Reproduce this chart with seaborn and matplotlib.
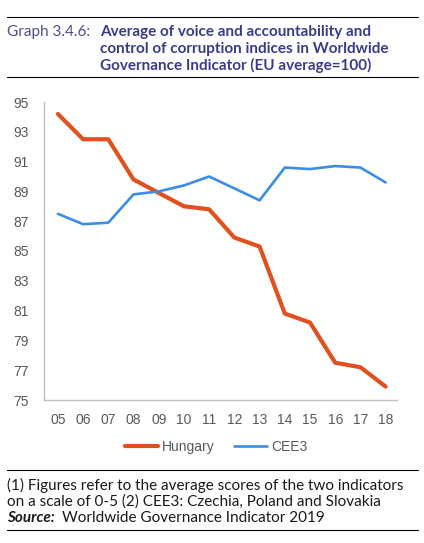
import matplotlib
matplotlib.use("Agg")
import matplotlib.pyplot as plt
import seaborn as sns
import pandas as pd
from matplotlib.lines import Line2D

years = ["05", "06", "07", "08", "09", "10", "11", "12", "13", "14", "15", "16", "17", "18"]
hungary = [94.2, 92.5, 92.5, 89.8, 88.9, 88.0, 87.8, 85.9, 85.3, 80.8, 80.2, 77.5, 77.2, 75.9]
cee3 = [87.5, 86.8, 86.9, 88.8, 89.0, 89.4, 90.0, 89.2, 88.4, 90.6, 90.5, 90.7, 90.6, 89.6]
series_names = ["Hungary", "CEE3"]
yticks = [75, 77, 79, 81, 83, 85, 87, 89, 91, 93, 95]

df = pd.DataFrame({
    "year": years * 2,
    "pos": list(range(len(years))) * 2,
    "value": hungary + cee3,
    "series": ["Hungary"] * len(years) + ["CEE3"] * len(years),
})

sns.set_theme(style="white")
plt.rcParams["font.family"] = ["Liberation Sans", "DejaVu Sans"]

fig = plt.figure(figsize=(4.24, 5.43), dpi=100)
ax = fig.add_axes([44 / 424, 1 - 400 / 543, (397 - 44) / 424, (400 - 102) / 543])

palette = {"Hungary": "#E2501D", "CEE3": "#3A8EE6"}
sizes = {"Hungary": 3.0, "CEE3": 1.9}
sns.lineplot(data=df, x="pos", y="value", hue="series", hue_order=series_names,
             palette=palette, size="series", sizes=sizes, size_order=series_names,
             legend=False, ax=ax)

ax.set_ylim(75, 95)
ax.set_xlim(-0.55, 13.45)
ax.set_yticks(yticks)
ax.set_yticklabels([str(t) for t in yticks])
ax.set_xticks(range(len(years)))
ax.set_xticklabels(years)
ax.set_xlabel("")
ax.set_ylabel("")
ax.tick_params(axis="both", length=0, labelsize=10, colors="#595959")
ax.tick_params(axis="y", pad=11)
ax.tick_params(axis="x", pad=9)
for s in ["top", "right"]:
    ax.spines[s].set_visible(False)
for s in ["left", "bottom"]:
    ax.spines[s].set_color("#BFBFBF")
    ax.spines[s].set_linewidth(1.0)

handles = [Line2D([], [], color=palette[n], lw=sizes[n]) for n in series_names]
fig.legend(handles, series_names, loc="center", bbox_to_anchor=(216 / 424, 1 - 447 / 543),
           ncol=2, frameon=False, fontsize=10, handlelength=2.4, handletextpad=0.25,
           columnspacing=1.4, labelcolor="#595959")

# Title block
title_font = ["Lato", "DejaVu Sans"]
fs = 11
fig.add_artist(Line2D([7 / 424, 418 / 424], [1 - 17 / 543, 1 - 17 / 543], color="black", lw=0.8))
fig.add_artist(Line2D([7 / 424, 418 / 424], [1 - 77 / 543, 1 - 77 / 543], color="black", lw=0.8))
fig.text(7 / 424, 1 - 32 / 543, "Graph 3.4.6:", fontsize=fs, color="#4D4D8F",
         family=title_font, va="center", ha="left")
title_lines = ["Average of voice and accountability and",
               "control of corruption indices in Worldwide",
               "Governance Indicator (EU average=100)"]
for i, line in enumerate(title_lines):
    fig.text(100 / 424, 1 - (32 + 16.5 * i) / 543, line, fontsize=fs, fontweight="bold",
             color="#3B3B8F", family=title_font, va="center", ha="left")

# Footnote block
fig.add_artist(Line2D([7 / 424, 418 / 424], [1 - 470 / 543, 1 - 470 / 543], color="black", lw=0.8))
fig.add_artist(Line2D([7 / 424, 418 / 424], [1 - 530 / 543, 1 - 530 / 543], color="black", lw=0.8))
notes = ["(1) Figures refer to the average scores of the two indicators",
         "on a scale of 0-5 (2) CEE3: Czechia, Poland and Slovakia"]
for i, line in enumerate(notes):
    fig.text(7 / 424, 1 - (485 + 16.5 * i) / 543, line, fontsize=fs, color="#1A1A1A",
             family=title_font, va="center", ha="left")
fig.text(7 / 424, 1 - 518 / 543, "Source:", fontsize=fs, fontweight="bold", fontstyle="italic",
         color="#1A1A1A", family=title_font, va="center", ha="left")
fig.text(62 / 424, 1 - 518 / 543, "Worldwide Governance Indicator 2019", fontsize=fs,
         color="#1A1A1A", family=title_font, va="center", ha="left")

fig.savefig("out.png", dpi=100)
